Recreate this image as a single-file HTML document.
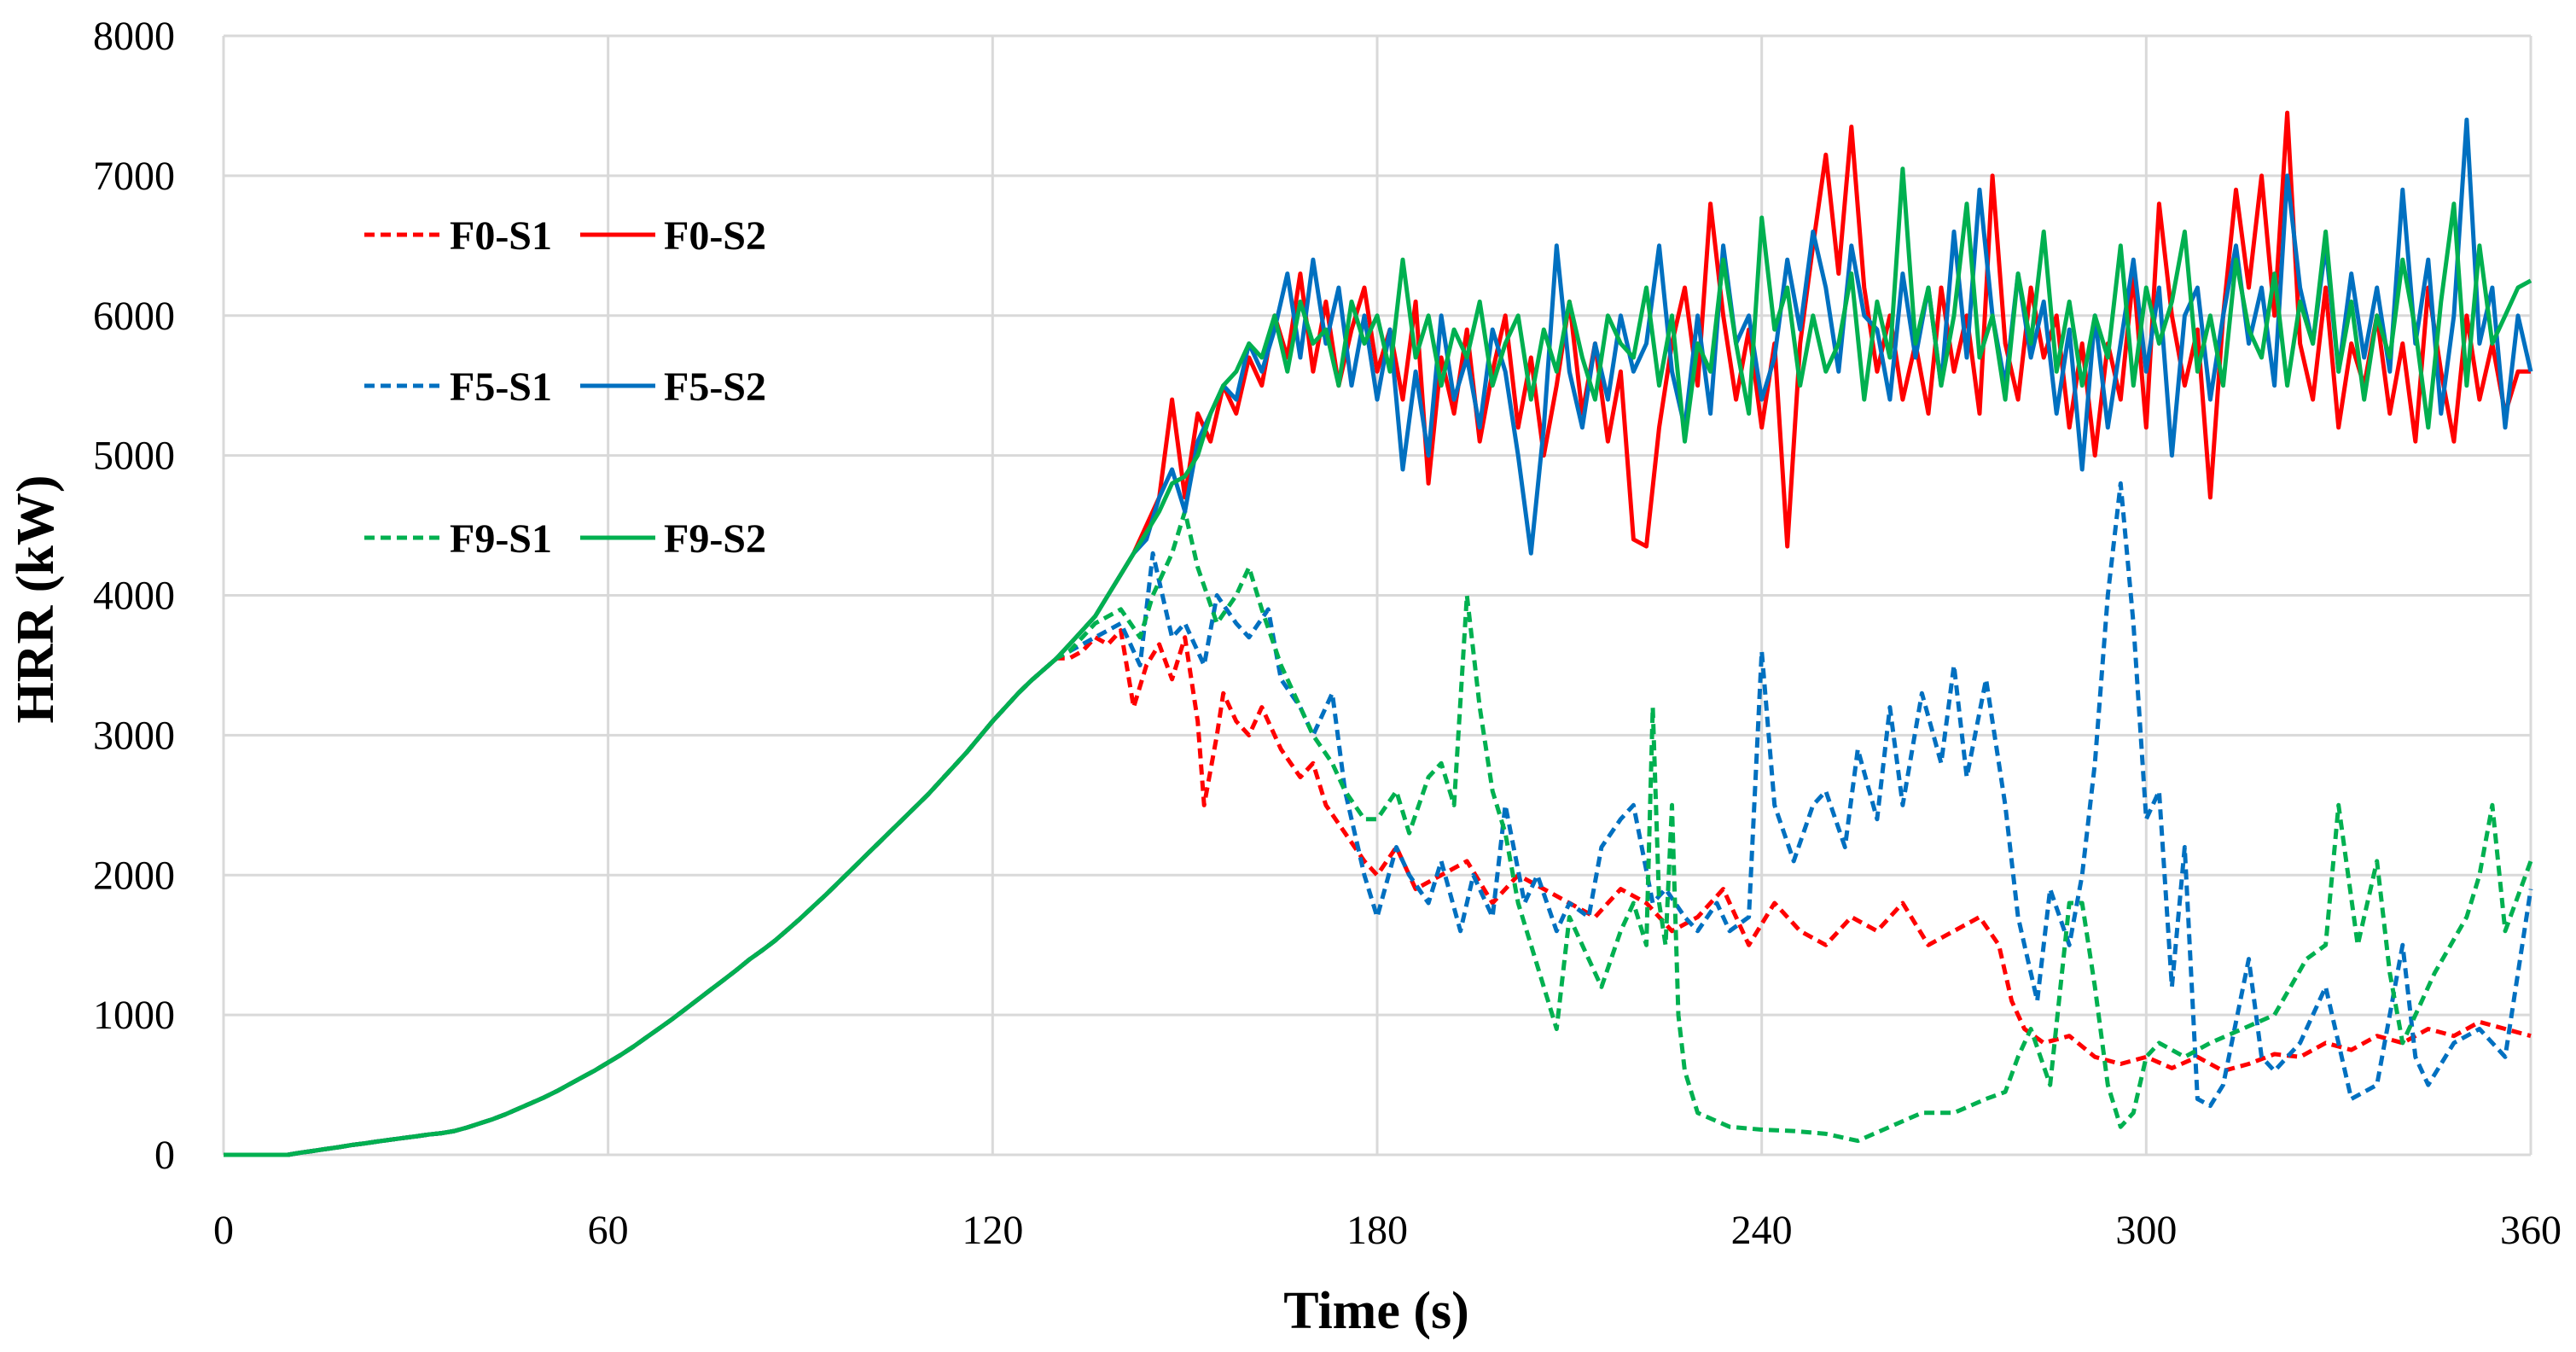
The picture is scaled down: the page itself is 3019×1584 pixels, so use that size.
<!DOCTYPE html>
<html><head><meta charset="utf-8"><style>
html,body{margin:0;padding:0;background:#fff;}
svg{display:block;}
</style></head><body>
<svg id="chart" width="3019" height="1584" viewBox="0 0 3019 1584" xmlns="http://www.w3.org/2000/svg" font-family="'Liberation Serif', serif">
<g id="grid"></g>
<g id="ticks"></g>
<g id="series"></g>
<text x="1613" y="1556" font-size="62" font-weight="bold" text-anchor="middle">Time (s)</text>
<text transform="translate(62,702) rotate(-90)" font-size="62" font-weight="bold" text-anchor="middle">HRR (kW)</text>
<g id="legend"></g>
</svg>
<script>
const xTicks = [0,60,120,180,240,300,360];
const yTicks = [0,1000,2000,3000,4000,5000,6000,7000,8000];
const rampTimes = [0,2,4,6,8,10,12,14,16,18,20,22,24,26,28,30,32,34,36,38,40,42,44,46,48,50,52,54,56,58,60,62,64,66,68,70,72,74,76,78,80,82,84,86,88,90,92,94,96,98,100,102,104,106,108,110,112,114,116,118,120,122,124,126,128,130];
const rampValues = [0,0,0,0,0,0,15,28,42,55,70,82,95,108,120,132,145,155,170,195,225,255,290,330,370,410,455,505,555,605,660,715,775,840,905,970,1040,1110,1180,1250,1320,1395,1460,1530,1610,1690,1775,1860,1950,2040,2130,2220,2310,2400,2490,2580,2680,2780,2880,2990,3100,3200,3300,3390,3470,3550];
const solidStart = 132, solidStep = 2;
const f0s2 = [3650,3750,3850,4000,4150,4300,4500,4700,5400,4700,5300,5100,5500,5300,5700,5500,6000,5700,6300,5600,6100,5500,5900,6200,5600,5900,5400,6100,4800,5700,5300,5900,5100,5600,6000,5200,5700,5000,5500,6100,5300,5800,5100,5600,4400,4350,5200,5800,6200,5500,6800,6000,5400,5900,5200,5800,4350,5800,6500,7150,6300,7350,6200,5600,6000,5400,5800,5300,6200,5600,6000,5300,7000,5800,5400,6200,5700,6000,5200,5800,5000,5800,5400,6300,5200,6800,6000,5500,5900,4700,6000,6900,6200,7000,6000,7450,5800,5400,6200,5200,5800,5500,6000,5300,5800,5100,6200,5600,5100,6000,5400,5800,5300,5600,5600];
const f5s2 = [3650,3750,3850,4000,4150,4300,4400,4700,4900,4600,5100,5300,5500,5400,5800,5600,5900,6300,5700,6400,5800,6200,5500,6000,5400,5900,4900,5600,5000,6000,5400,5700,5200,5900,5600,5000,4300,5200,6500,5600,5200,5800,5400,6000,5600,5800,6500,5600,5200,6000,5300,6500,5800,6000,5400,5700,6400,5900,6600,6200,5600,6500,6000,5900,5400,6300,5700,6200,5500,6600,5700,6900,6000,5500,6300,5700,6100,5300,5900,4900,6000,5200,5800,6400,5600,6200,5000,6000,6200,5400,6000,6500,5800,6200,5500,7000,6200,5800,6500,5600,6300,5700,6200,5600,6900,5800,6400,5300,6000,7400,5800,6200,5200,6000,5600];
const f9s2 = [3650,3750,3850,4000,4150,4300,4450,4600,4800,4850,5000,5300,5500,5600,5800,5700,6000,5600,6100,5800,5900,5500,6100,5800,6000,5600,6400,5700,6000,5500,5900,5700,6100,5500,5800,6000,5400,5900,5600,6100,5700,5400,6000,5800,5700,6200,5500,6000,5100,5800,5600,6400,5800,5300,6700,5900,6200,5500,6000,5600,5800,6300,5400,6100,5700,7050,5800,6200,5500,6000,6800,5700,6000,5400,6300,5800,6600,5600,6100,5500,6000,5700,6500,5500,6200,5800,6100,6600,5600,6000,5500,6400,5900,5700,6300,5500,6100,5800,6600,5600,6100,5400,6000,5700,6400,5900,5200,6100,6800,5500,6500,5800,6000,6200,6250];
const f0s1T = [132,134,136,138,140,142,144,146,148,150,152,153,155,156,158,160,162,165,168,170,172,175,178,180,183,186,190,194,198,202,206,210,214,218,222,226,230,234,238,242,246,250,254,258,262,266,270,274,277,279,281,284,288,292,296,300,304,308,312,316,320,324,328,332,336,340,344,348,352,356,360];
const f0s1 = [3550,3600,3700,3650,3750,3200,3500,3650,3400,3700,3100,2500,3000,3300,3100,3000,3200,2900,2700,2800,2500,2300,2100,2000,2200,1900,2000,2100,1800,2000,1900,1800,1700,1900,1800,1600,1700,1900,1500,1800,1600,1500,1700,1600,1800,1500,1600,1700,1500,1100,900,800,850,700,650,700,620,700,600,650,720,700,800,750,850,800,900,850,950,900,850];
const f5s1T = [132,136,140,143,145,148,150,153,155,158,160,163,165,168,170,173,175,178,180,183,185,188,190,193,195,198,200,203,205,208,210,213,215,218,220,223,225,228,230,233,235,238,240,242,245,248,250,253,255,258,260,262,265,268,270,272,275,278,280,283,285,288,290,292,294,296,298,300,302,304,306,308,310,312,316,318,320,324,328,332,336,340,342,344,348,352,356,360];
const f5s1 = [3600,3700,3800,3500,4300,3700,3800,3500,4000,3800,3700,3900,3400,3200,3000,3300,2600,2000,1700,2200,2000,1800,2100,1600,2000,1700,2500,1800,2000,1600,1800,1700,2200,2400,2500,1800,1900,1700,1600,1800,1600,1700,3600,2500,2100,2500,2600,2200,2900,2400,3200,2500,3300,2800,3500,2700,3400,2500,1700,1100,1900,1500,2000,2800,4000,4800,3800,2400,2600,1200,2200,400,350,500,1400,700,600,800,1200,400,500,1500,700,500,800,900,700,1900];
const f9s1T = [132,136,140,143,145,148,150,152,155,158,160,162,165,168,170,173,175,178,180,183,185,188,190,192,194,196,198,200,202,204,206,208,210,213,215,218,220,222,223,224,225,226,227,228,230,235,240,245,250,255,260,265,270,275,278,280,282,285,288,290,292,294,296,298,300,302,306,310,315,320,325,328,330,333,336,338,340,345,350,352,354,356,360];
const f9s1 = [3600,3800,3900,3700,4000,4300,4600,4200,3800,4000,4200,3900,3500,3200,3000,2800,2600,2400,2400,2600,2300,2700,2800,2500,4000,3200,2600,2300,1800,1500,1200,900,1700,1400,1200,1600,1800,1500,3200,1800,1500,2500,1000,600,300,200,180,170,150,100,200,300,300,400,450,700,900,500,1800,1800,1200,500,200,300,700,800,700,800,900,1000,1400,1500,2500,1500,2100,1300,800,1300,1700,2000,2500,1600,2100];

const X0 = 262, X1 = 2966, Y0 = 1353, Y1 = 42;
const xs = t => X0 + (t / 360) * (X1 - X0);
const ys = v => Y0 - (v / 8000) * (Y0 - Y1);
const NS = 'http://www.w3.org/2000/svg';
function mk(tag, attrs, parent) {
  const el = document.createElementNS(NS, tag);
  for (const k in attrs) el.setAttribute(k, attrs[k]);
  parent.appendChild(el);
  return el;
}
const grid = document.getElementById('grid');
const ticks = document.getElementById('ticks');
yTicks.forEach(v => {
  const l = mk('line', {x1: X0, x2: X1, y1: ys(v), y2: ys(v), stroke: '#d9d9d9', 'stroke-width': 3}, grid);
  
  
  const t = mk('text', {x: 205, y: ys(v) + 16, 'font-size': 48, 'text-anchor': 'end'}, ticks);
  t.textContent = v;
  
  
});
xTicks.forEach(v => {
  const l = mk('line', {x1: xs(v), x2: xs(v), y1: Y1, y2: Y0, stroke: '#d9d9d9', 'stroke-width': 3}, grid);
  
  
  const t = mk('text', {x: xs(v), y: 1457, 'font-size': 48, 'text-anchor': 'middle'}, ticks);
  t.textContent = v;
  
  
});
const series = document.getElementById('series');
function pts(ts, vs) { return ts.map((t, i) => xs(t).toFixed(1) + ',' + ys(vs[i]).toFixed(1)).join(' '); }
function solidT(arr) { return arr.map((_, i) => solidStart + i * solidStep); }
const RED = '#ff0000', BLUE = '#0070c0', GREEN = '#00b050';
function draw(name, ts, vs, color, dashed) {
  const allT = rampTimes.concat(ts), allV = rampValues.concat(vs);
  const p = mk('polyline', {points: pts(allT, allV), fill: 'none', stroke: color, 'stroke-width': 5, 'stroke-linejoin': 'round'}, series);
  if (dashed) p.setAttribute('stroke-dasharray', '12 7');
  
  
}
draw('line-f0-s1', f0s1T, f0s1, RED, true);
draw('line-f5-s1', f5s1T, f5s1, BLUE, true);
draw('line-f9-s1', f9s1T, f9s1, GREEN, true);
draw('line-f0-s2', solidT(f0s2), f0s2, RED, false);
draw('line-f5-s2', solidT(f5s2), f5s2, BLUE, false);
draw('line-f9-s2', solidT(f9s2), f9s2, GREEN, false);

const legend = document.getElementById('legend');
const legendRows = [['F0-S1','F0-S2',RED,275],['F5-S1','F5-S2',BLUE,452],['F9-S1','F9-S2',GREEN,630]];
legendRows.forEach(r => {
  const a = mk('line', {x1: 427, x2: 516, y1: r[3], y2: r[3], stroke: r[2], 'stroke-width': 5, 'stroke-dasharray': '12 7'}, legend);
  
  
  const t1 = mk('text', {x: 527, y: r[3] + 17, 'font-size': 48, 'font-weight': 'bold'}, legend);
  t1.textContent = r[0];
  
  
  const b = mk('line', {x1: 680, x2: 768, y1: r[3], y2: r[3], stroke: r[2], 'stroke-width': 5}, legend);
  
  
  const t2 = mk('text', {x: 778, y: r[3] + 17, 'font-size': 48, 'font-weight': 'bold'}, legend);
  t2.textContent = r[1];
  
  
});
</script>
</body></html>
